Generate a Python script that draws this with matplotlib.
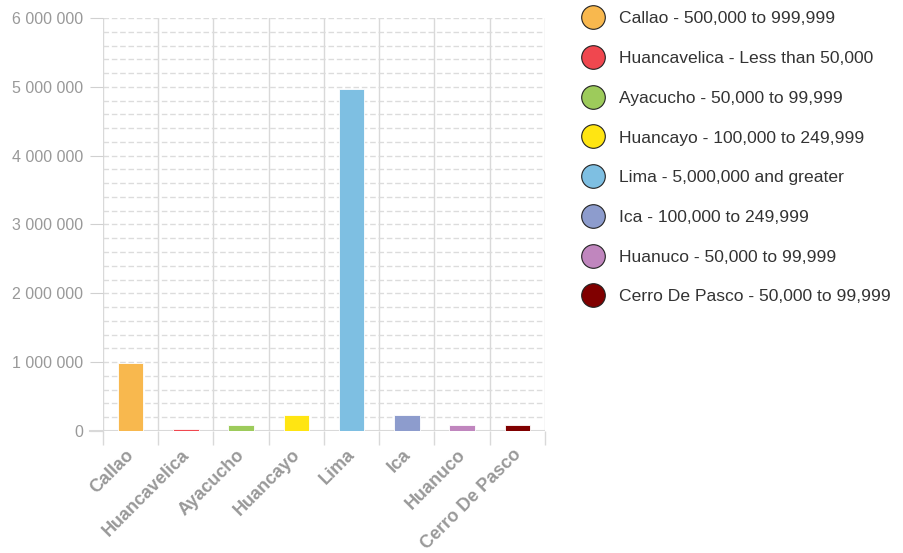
import matplotlib.pyplot as plt
from matplotlib.lines import Line2D
from matplotlib.ticker import FuncFormatter, MultipleLocator
from matplotlib.transforms import ScaledTranslation

plt.rcParams['font.family'] = ['Liberation Sans', 'DejaVu Sans']

# Data
cities = ["Callao", "Huancavelica", "Ayacucho", "Huancayo", "Lima", "Ica", "Huanuco", "Cerro De Pasco"]
population = [985000, 30000, 85000, 235000, 4975000, 235000, 85000, 88000]
size_class = ["500,000 to 999,999", "Less than 50,000", "50,000 to 99,999", "100,000 to 249,999",
              "5,000,000 and greater", "100,000 to 249,999", "50,000 to 99,999", "50,000 to 99,999"]
colors = ["#f8b84e", "#f0474f", "#9dcb5b", "#ffe512", "#7ebfe2", "#8d9ccd", "#c086be", "#800000"]

fig = plt.figure(figsize=(9.04, 5.53), dpi=100)
ax = fig.add_axes([103 / 904, 1 - 431 / 553, 442 / 904, 413 / 553])

x = range(len(cities))
ax.bar(x, population, width=0.46, color=colors, edgecolor="white", linewidth=0.6, zorder=3)

ax.set_xlim(-0.5, len(cities) - 0.5)
ax.set_ylim(0, 6000000)

# y axis
ax.yaxis.set_major_locator(MultipleLocator(1000000))
ax.yaxis.set_minor_locator(MultipleLocator(200000))
ax.yaxis.set_major_formatter(FuncFormatter(lambda v, p: f"{int(v):,}".replace(",", " ")))
ax.tick_params(axis="y", which="major", length=9.4, color="#d0d0d0", labelsize=11.5,
               labelcolor="#999999", pad=5)
ax.tick_params(axis="y", which="minor", length=0)
ax.grid(axis="y", which="both", linestyle=(0, (4, 2)), color="#dcdcdc", linewidth=1, zorder=0)

# x axis: category boundaries as solid lines
ax.set_xticks(list(x))
ax.set_xticks([i - 0.5 for i in range(len(cities) + 1)], minor=True)
ax.set_xticklabels(cities, rotation=45, ha="right", rotation_mode="anchor",
                   fontsize=13, fontweight="bold", color="#999999")
ax.tick_params(axis="x", which="major", length=0, pad=11)
ax.tick_params(axis="x", which="minor", length=10, color="#d9d9d9", width=1)
ax.grid(axis="x", which="minor", linestyle="-", color="#d9d9d9", linewidth=1, zorder=0)
shift = ScaledTranslation(-5 / 100, 0, fig.dpi_scale_trans)
for lbl in ax.get_xticklabels():
    lbl.set_transform(lbl.get_transform() + shift)

for s in ax.spines.values():
    s.set_visible(False)
ax.axhline(0, color="#d9d9d9", linewidth=1.5, zorder=2)
ax.plot([-0.5 - 13 / 55.25, -0.5], [0, 0], color="#d9d9d9", linewidth=1.5, clip_on=False)

# legend
handles = [Line2D([], [], marker="o", linestyle="none", markersize=17, markerfacecolor=c,
                  markeredgecolor="#222222", markeredgewidth=0.8) for c in colors]
labels = [f"{c} - {s}" for c, s in zip(cities, size_class)]
fig.legend(handles, labels, loc="upper left", bbox_to_anchor=(573 / 904, 1 - 4 / 553),
           frameon=False, fontsize=12.6, labelcolor="#333333", handletextpad=0.75,
           labelspacing=1.4, borderaxespad=0, handlelength=1.5)

plt.savefig("out.png", dpi=100)
